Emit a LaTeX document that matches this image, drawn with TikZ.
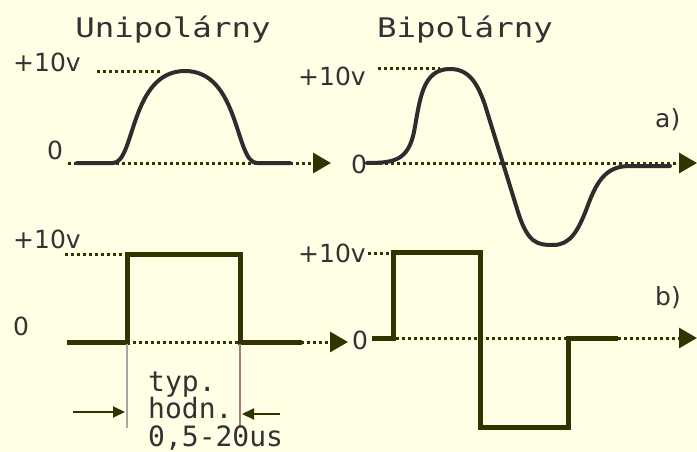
\documentclass[tikz,border=0pt]{standalone}
\usepackage{fontspec}
\setsansfont{DejaVu Sans}
\newfontfamily\titlefont[FakeStretch=1.2]{DejaVu Sans Mono}
\newfontfamily\notefont{DejaVu Sans Mono}
\usetikzlibrary{arrows.meta,calc}
\definecolor{paper}{RGB}{255,255,230}
\definecolor{ink}{RGB}{51,51,0}
\definecolor{wave}{RGB}{45,45,45}
\definecolor{txt}{RGB}{50,50,50}
\definecolor{rust}{RGB}{170,120,120}

\begin{document}
\begin{tikzpicture}[x=1pt,y=-1pt,
    every node/.style={inner sep=0pt,anchor=base west,text=txt},
    title/.style={font=\titlefont\fontsize{27}{27}\selectfont,anchor=base},
    lbl/.style={font=\sffamily\fontsize{25}{25}\selectfont},
    note/.style={font=\notefont\fontsize{28}{28}\selectfont},
    level/.style={ink,line width=3pt,dash pattern=on 3pt off 3pt},
    axis/.style={level,-{Triangle[length=18pt,width=20pt]}},
    curve/.style={wave,line width=4pt,line cap=round,line join=round},
    pulse/.style={ink,line width=5pt},
    tick/.style={line width=1.2pt},
    dim/.style={ink,line width=2pt,-{Triangle[length=12pt,width=11pt]}},
]
% background and page size (pixels of the reference)
\fill[paper] (0,0) rectangle (697,452);
\useasboundingbox (0,0) rectangle (697,452);

% Titles
\node[title] (uni) at (173,38) {Unipolárny};
\node[title] (bip) at (465,38) {Bipolárny};

% --- Level labels
\node[lbl] (uTop)  at (13,72)   {+10v};
\node[lbl] (uZero) at (47,159)  {0};
\node[lbl] (bTop)  at (298,85)  {+10v};
\node[lbl] (bZero) at (351,173) {0};
\node[lbl] (pTop)  at (13,248)  {+10v};
\node[lbl] (pZero) at (13,335)  {0};
\node[lbl] (qTop)  at (298,262) {+10v};
\node[lbl] (qZero) at (352,349) {0};
\node[lbl] (caseA) at (655,128) {a)};
\node[lbl] (caseB) at (655,305) {b)};

% --- Dotted levels and time axes
\draw[level] (97,72) -- (160,72);
\draw[level] (378,69) -- (440,69);
\draw[level] (65,254) -- (125,254);
\draw[level] (368,253) -- (392,253);
\draw[axis] (68,163) -- (331,163);
\draw[axis] (367,163) -- (697,163);
\draw[axis] (67,342) -- (348,342);
\draw[axis] (372,338) -- (697,338);

% a) smooth pulses
\draw[curve] (77,163) -- (113,163) .. controls (135,163) and (130,71) .. (185,71)
  .. controls (240,71) and (235,163) .. (257,163) -- (290,163);
\draw[curve] (367,163) .. controls (395,163) and (408,160) .. (414,132)
  .. controls (420,100) and (422,69) .. (450,69)
  .. controls (470,69) and (478,85) .. (485,105) -- (518,212)
  .. controls (528,244) and (538,245) .. (553,245)
  .. controls (570,245) and (578,232) .. (588,205)
  .. controls (598,178) and (608,166) .. (630,166) -- (670,166);

% b) rectangular pulses
\draw[pulse] (67,342) -- (127,342) -- (127,254) -- (240,254) -- (240,342) -- (302,342);
\draw[pulse] (372,338) -- (393,338) -- (393,252) -- (480,252) -- (480,427)
  -- (568,427) -- (568,338) -- (618,338);

% pulse width marks
\coordinate (wL0) at (127,344);
\coordinate (wL1) at (127,428);
\coordinate (wR0) at (240,344);
\coordinate (wR1) at (240,428);
\draw[tick,gray!70] (wL0) -- (wL1);
\draw[tick,rust] (wR0) -- (wR1);
\coordinate (inL) at (73,412);
\coordinate (inR) at (280,414);
\draw[dim] (inL) -- (125,412);
\draw[dim] (inR) -- (242,414);

\node[note] (typ)  at (148,391) {typ.};
\node[note] (hodn) at (148,418.5) {hodn.};
\node[note] (span) at (148,446) {0,5-20us};
\end{tikzpicture}
\end{document}
